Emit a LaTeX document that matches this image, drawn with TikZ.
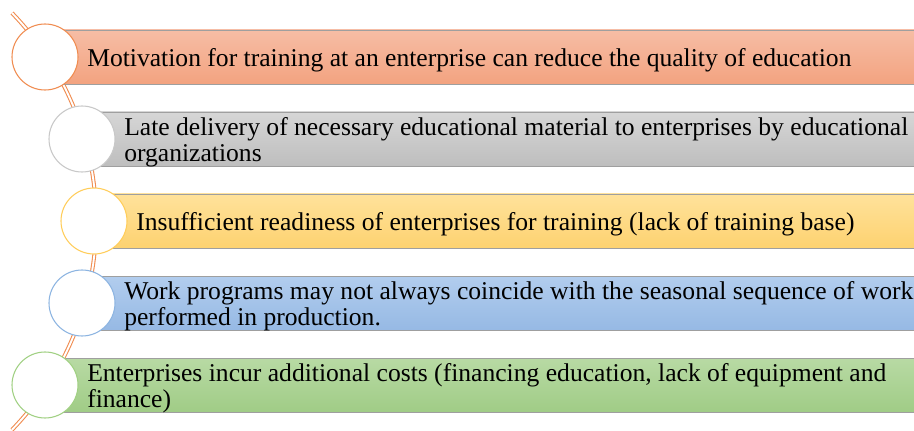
\documentclass[tikz,border=0pt]{standalone}
\usepackage{fontspec}
\setmainfont{Liberation Serif}

\definecolor{orngtop}{RGB}{246,189,165}
\definecolor{orngbot}{RGB}{243,163,128}
\definecolor{orngline}{RGB}{240,140,80}
\definecolor{graytop}{RGB}{214,214,214}
\definecolor{graybot}{RGB}{190,190,190}
\definecolor{grayline}{RGB}{200,200,200}
\definecolor{yelltop}{RGB}{255,226,155}
\definecolor{yellbot}{RGB}{253,210,112}
\definecolor{yellline}{RGB}{255,205,90}
\definecolor{bluetop}{RGB}{178,205,238}
\definecolor{bluebot}{RGB}{150,185,228}
\definecolor{blueline}{RGB}{140,180,225}
\definecolor{greentop}{RGB}{184,218,164}
\definecolor{greenbot}{RGB}{160,204,134}
\definecolor{greenline}{RGB}{160,208,130}

\begin{document}
\begin{tikzpicture}[x=0.75pt,y=-0.75pt,
    spine/.style={draw=orngline, line width=0.8pt, double=white, double distance=1.4pt},
    bar/.style={draw=gray!75, line width=0.6pt},
    dot/.style={circle, fill=white, line width=0.8pt, minimum size=49.5pt, inner sep=0pt},
    label/.style={anchor=west, inner sep=0pt, align=left,
        font=\rmfamily\fontsize{19.2pt}{19.5pt}\selectfont}]
        \useasboundingbox (0,0) rectangle (914,431);
        % curved spine behind the circles
        \draw[spine] (12,13) arc[start angle=-44, end angle=44, radius=300];
        \foreach \i/\cx/\cy/\col in {1/45/57/orng, 2/82/139/gray, 3/94/221/yell, 4/82/303/blue, 5/45/385/green} {
            \draw[bar, top color=\col top, bottom color=\col bot] (\cx,\cy-27) rectangle (916,\cy+27);
            \node[dot, draw=\col line] (c\i) at (\cx,\cy) {};
        }
        \node[label] (t1) at (87,60) {Motivation for training at an enterprise can reduce the quality of education};
        \node[label] (t2) at (124,142) {Late delivery of necessary educational material to enterprises by educational\\organizations};
        \node[label] (t3) at (136,224) {Insufficient readiness of enterprises for training (lack of training base)};
        \node[label] (t4) at (124,306) {Work programs may not always coincide with the seasonal sequence of work\\performed in production.};
        \node[label] (t5) at (87,388) {Enterprises incur additional costs (financing education, lack of equipment and\\finance)};
    \end{tikzpicture}
\end{document}
